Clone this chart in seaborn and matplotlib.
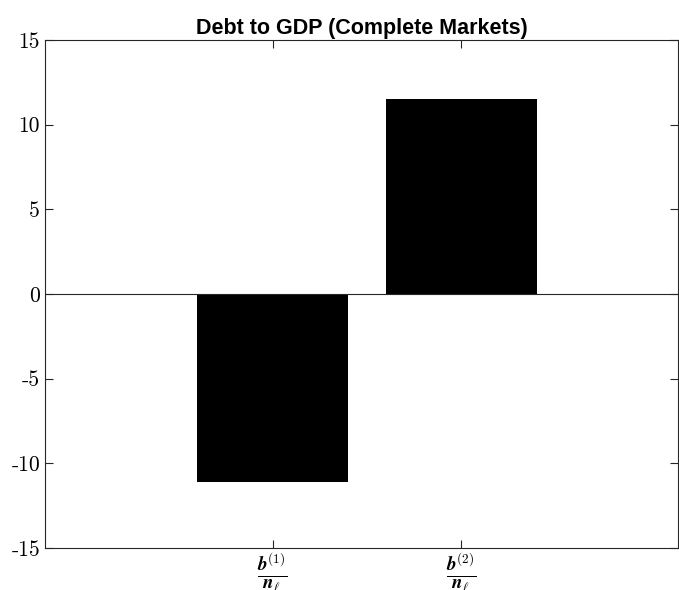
import matplotlib
matplotlib.use("Agg")
import matplotlib.pyplot as plt
import seaborn as sns
import pandas as pd

categories = [r"$\frac{\boldsymbol{b}^{(1)}}{\boldsymbol{n}_{\ell}}$",
              r"$\frac{\boldsymbol{b}^{(2)}}{\boldsymbol{n}_{\ell}}$"]
debt_to_gdp = [-11.1, 11.5]
y_ticks = [-15, -10, -5, 0, 5, 10, 15]
y_tick_labels = ["-15", "-10", "-5", "0", "5", "10", "15"]

sns.set_theme(style="white")
plt.rcParams["mathtext.fontset"] = "cm"

df = pd.DataFrame({"var": categories, "value": debt_to_gdp})

fig = plt.figure(figsize=(6.79, 5.90), dpi=100)
ax = fig.add_axes([0.0663, 0.0712, 0.932, 0.861])

sns.barplot(data=df, x="var", y="value", color="black", width=0.8,
            saturation=1, ax=ax, edgecolor="black", linewidth=0)

# baseline at zero
ax.axhline(0, color="#262626", lw=0.8, zorder=3)

ax.set_xlim(-1.206, 2.148)
ax.set_ylim(-15, 15)
ax.set_yticks(y_ticks)
ax.set_yticklabels(y_tick_labels, fontfamily="cmr10", fontsize=15.5, color="black")
ax.tick_params(axis="x", labelsize=19.5, pad=2.5, labelcolor="black")
ax.set_xlabel("")
ax.set_ylabel("")

ax.tick_params(direction="in", length=6, width=0.8, color="#262626",
               top=True, right=True, bottom=True, left=True)
for s in ax.spines.values():
    s.set_visible(True)
    s.set_color("#262626")
    s.set_linewidth(0.8)

ax.set_title("Debt to GDP (Complete Markets)", fontfamily="Liberation Sans",
             fontweight="bold", fontsize=15.5, pad=4, color="black")

fig.savefig("out.png", dpi=100, facecolor="white")
